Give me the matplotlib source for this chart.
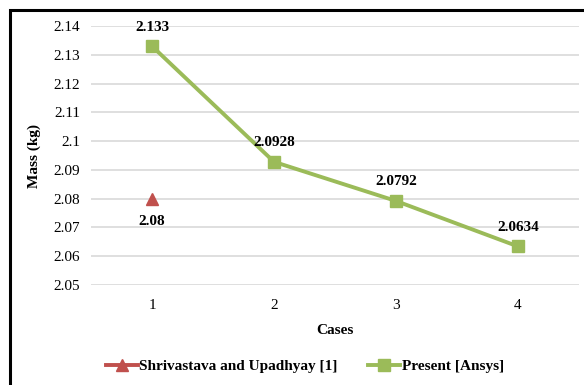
import matplotlib.pyplot as plt
from matplotlib.lines import Line2D

# data
cases = [1, 2, 3, 4]
present = [2.133, 2.0928, 2.0792, 2.0634]
ref_case = [1]
ref_mass = [2.08]
yticks = [2.05, 2.06, 2.07, 2.08, 2.09, 2.1, 2.11, 2.12, 2.13, 2.14]
ytick_labels = ['2.05', '2.06', '2.07', '2.08', '2.09', '2.1', '2.11', '2.12', '2.13', '2.14']

red = '#C0504D'
green = '#9BBB59'

plt.rcParams['font.family'] = ['Liberation Serif', 'DejaVu Serif']

fig = plt.figure(figsize=(5.84, 3.85), dpi=100)
ax = fig.add_axes([91/584, 1 - 285/385, (579 - 91)/584, (285 - 26)/385])

# outer frame
fig.patches.append(plt.Rectangle((9.5/584, -0.01), 1.0, 1 - 9.5/385 + 0.01,
                                 transform=fig.transFigure, fill=False,
                                 edgecolor='black', linewidth=2.2))

ax.plot(cases, present, color=green, linewidth=2.8, marker='s', markersize=9,
        label='Present [Ansys]', zorder=3)
ax.plot(ref_case, ref_mass, color=red, linestyle='none', marker='^', markersize=9,
        label='Shrivastava and Upadhyay [1]', zorder=3)

for x, y in zip(cases, present):
    ax.annotate(str(y), (x, y), xytext=(0, 9), textcoords='offset points',
                ha='center', va='bottom', fontsize=11, fontweight='bold')
ax.annotate('2.08', (1, 2.08), xytext=(0, -12), textcoords='offset points',
            ha='center', va='top', fontsize=11, fontweight='bold')

ax.set_xlim(0.5, 4.5)
ax.set_ylim(2.05, 2.14)
ax.set_yticks(yticks)
ax.set_yticklabels(ytick_labels)
ax.set_xticks(cases)
ax.tick_params(length=0, labelsize=11)
ax.tick_params(axis='y', pad=8)
ax.tick_params(axis='x', pad=10)
ax.grid(axis='y', color='#D9D9D9', linewidth=1.2)
ax.set_axisbelow(True)
for s in ax.spines.values():
    s.set_visible(False)

ax.set_xlabel('Cases', fontsize=11, fontweight='bold', labelpad=9)
ax.set_ylabel('Mass (kg)', fontsize=11, fontweight='bold', labelpad=9)

handles = [Line2D([], [], color=red, linewidth=2.8, marker='^', markersize=8),
           Line2D([], [], color=green, linewidth=2.8, marker='s', markersize=8)]
fig.legend(handles, ['Shrivastava and Upadhyay [1]', 'Present [Ansys]'],
           loc='center', bbox_to_anchor=(305/584, 1 - 366/385), ncol=2,
           frameon=False, prop={'size': 11, 'weight': 'bold'},
           handlelength=2.1, handletextpad=0.1, columnspacing=2.0)

fig.savefig('out.png', dpi=100)
